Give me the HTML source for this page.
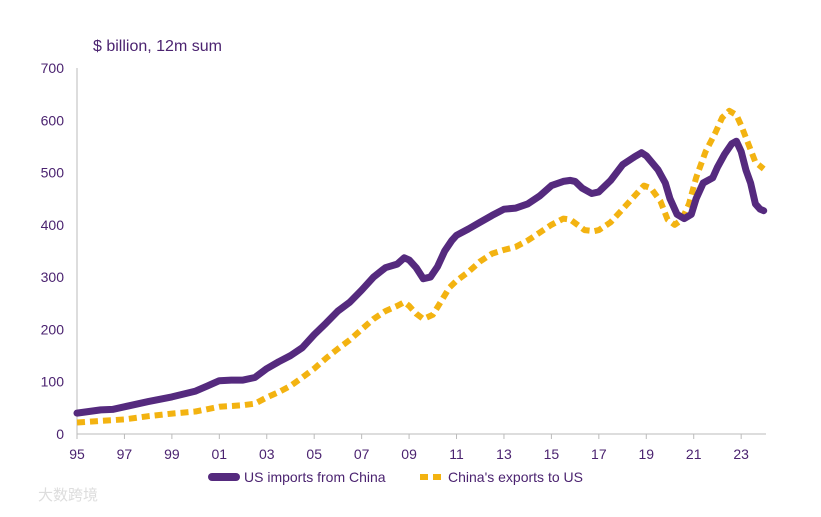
<!DOCTYPE html>
<html><head><meta charset="utf-8"><style>
body{margin:0;background:#fff;width:821px;height:512px;overflow:hidden;font-family:"Liberation Sans","Noto Sans CJK SC",sans-serif}
</style></head><body>
<svg id="c" width="821" height="512">
<text x="93" y="51" font-size="16" fill="#4b2370">$ billion, 12m sum</text>
<g id="axes"></g><g id="series"></g>
<g>
<line x1="212" y1="477" x2="236" y2="477" stroke="#552a7e" stroke-width="8" stroke-linecap="round"/>
<text x="244" y="482" font-size="14" fill="#4b2370">US imports from China</text>
<line x1="420" y1="477" x2="444" y2="477" stroke="#f3b311" stroke-width="6" stroke-dasharray="8,5"/>
<text x="448" y="482" font-size="14" fill="#4b2370">China's exports to US</text>
</g>
<text x="38" y="500" font-size="15" fill="#ddd">大数跨境</text>
</svg>
<script>
const yTicks=[0,100,200,300,400,500,600,700];
const xTickLabels=["95","97","99","01","03","05","07","09","11","13","15","17","19","21","23"];
const importsT=[1995,1996,1996.5,1997,1998,1999,2000,2000.5,2001,2001.5,2002,2002.5,2003,2003.5,2004,2004.5,2005,2005.5,2006,2006.5,2007,2007.5,2008,2008.5,2008.8,2009,2009.3,2009.6,2009.9,2010.2,2010.5,2010.8,2011,2011.5,2012,2012.5,2013,2013.5,2014,2014.5,2015,2015.5,2015.8,2016,2016.3,2016.7,2017,2017.5,2018,2018.5,2018.8,2019,2019.5,2019.8,2020,2020.3,2020.6,2020.9,2021.1,2021.4,2021.8,2022,2022.3,2022.6,2022.8,2023,2023.2,2023.4,2023.6,2023.8,2023.95];
const importsV=[40,46,47,52,62,71,82,92,102,103,103,108,125,138,150,165,190,212,235,252,275,300,318,325,337,333,318,297,300,320,350,370,380,392,405,418,430,432,440,455,475,483,485,483,470,460,463,485,515,530,538,532,505,480,450,420,412,420,450,480,490,510,535,555,560,540,505,480,440,430,427];
const exportsT=[1995,1996,1997,1998,1999,2000,2001,2002,2002.5,2003,2003.5,2004,2004.5,2005,2005.5,2006,2006.5,2007,2007.5,2008,2008.5,2008.8,2009,2009.3,2009.6,2010,2010.3,2010.7,2011,2011.5,2012,2012.5,2013,2013.5,2014,2014.5,2015,2015.5,2015.8,2016.1,2016.4,2016.8,2017,2017.5,2018,2018.5,2018.9,2019.2,2019.6,2019.9,2020.2,2020.5,2020.8,2021.1,2021.5,2021.9,2022.2,2022.5,2022.8,2023,2023.3,2023.6,2023.95];
const exportsV=[22,25,28,34,39,43,52,55,58,70,80,92,108,125,145,163,180,200,220,235,245,252,245,230,220,228,250,280,293,310,330,345,352,358,370,385,400,412,410,400,390,388,390,405,430,455,475,470,445,410,400,410,440,490,540,575,605,618,610,590,555,520,507];
const X=t=>77+(t-1995)*23.72, Y=v=>434-v*0.5229;
const ns="http://www.w3.org/2000/svg";
const ax=document.getElementById('axes'), se=document.getElementById('series');
function mk(tag,at,p){const e=document.createElementNS(ns,tag);for(const k in at)e.setAttribute(k,at[k]);p.appendChild(e);return e;}
const yl=mk('line',{x1:77,y1:68,x2:77,y2:434,stroke:'#bbb','stroke-width':1},ax);


const xl=mk('line',{x1:77,y1:434,x2:766,y2:434,stroke:'#bbb','stroke-width':1},ax);


yTicks.forEach(v=>{const t=mk('text',{x:64,y:Y(v)+5,'font-size':14,fill:'#4b2370','text-anchor':'end'},ax);t.textContent=v;

});
xTickLabels.forEach((s,i)=>{const x=X(1995+2*i);mk('line',{x1:x,y1:434,x2:x,y2:439,stroke:'#bbb'},ax);
const t=mk('text',{x:x,y:459,'font-size':14,fill:'#4b2370','text-anchor':'middle'},ax);t.textContent=s;

});
function pts(T,V){return T.map((t,i)=>X(t).toFixed(1)+','+Y(V[i]).toFixed(1)).join(' ');}
const pe=mk('polyline',{points:pts(exportsT,exportsV),fill:'none',stroke:'#f3b311','stroke-width':6,'stroke-dasharray':'8,5','stroke-linejoin':'round'},se);


const pi=mk('polyline',{points:pts(importsT,importsV),fill:'none',stroke:'#552a7e','stroke-width':7,'stroke-linejoin':'round','stroke-linecap':'round'},se);


</script>
</body></html>
